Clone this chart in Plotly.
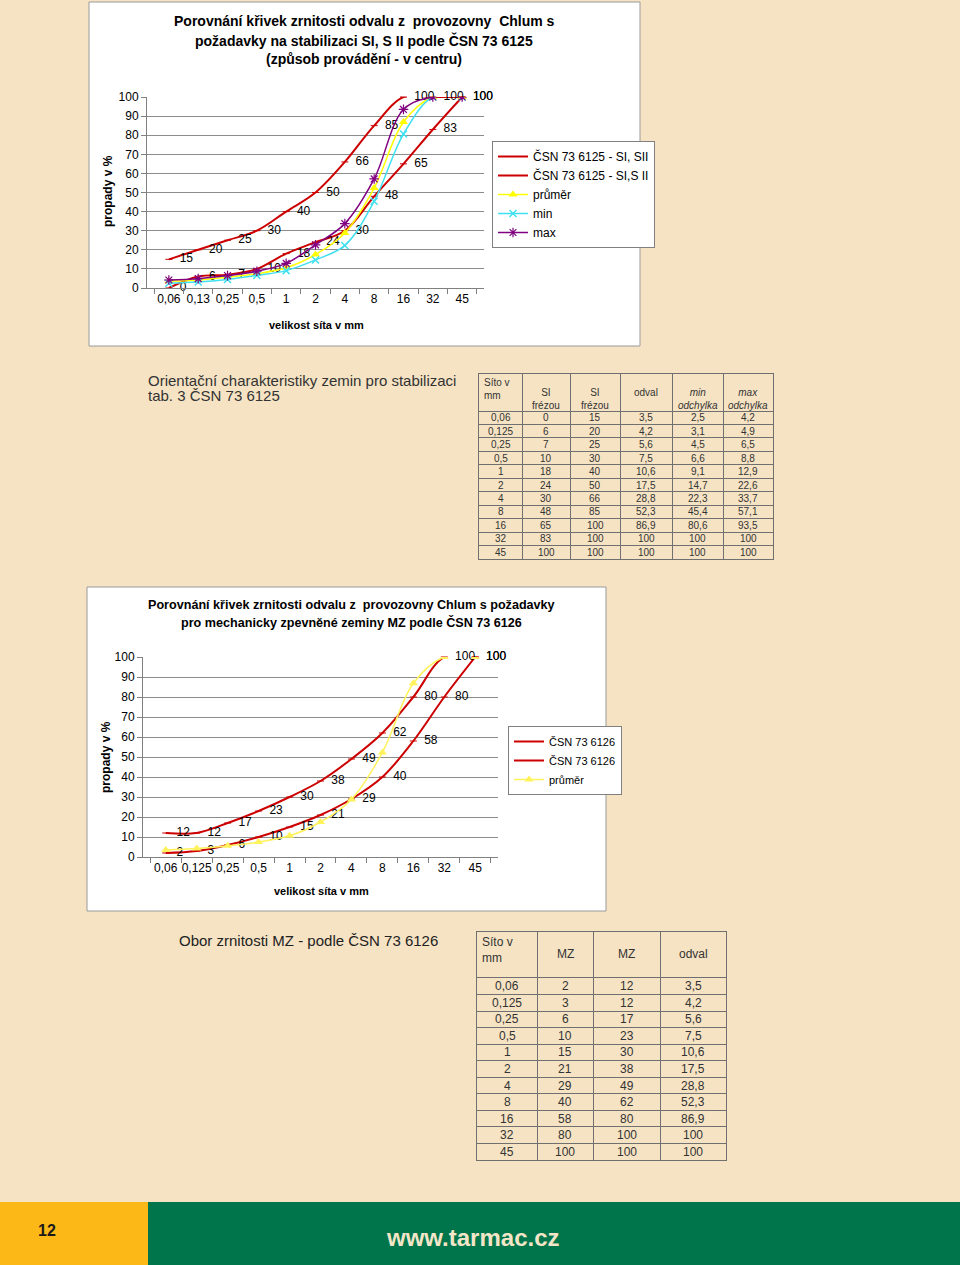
import plotly.graph_objects as go

W, H = 960, 1265
BG = "#F6E3C4"
FONT = "Arial, Liberation Sans, sans-serif"
RED = "#CC0000"
GRID = "#8C8C8C"

# ---- data -------------------------------------------------------------
sieve_chart1 = ["0,06", "0,13", "0,25", "0,5", "1", "2", "4", "8", "16", "32", "45"]
sieve_mm = ["0,06", "0,125", "0,25", "0,5", "1", "2", "4", "8", "16", "32", "45"]

si_low = [0, 6, 7, 10, 18, 24, 30, 48, 65, 83, 100]
si_high = [15, 20, 25, 30, 40, 50, 66, 85, 100, 100, 100]
odval_avg = [3.5, 4.2, 5.6, 7.5, 10.6, 17.5, 28.8, 52.3, 86.9, 100, 100]
odval_min = [2.5, 3.1, 4.5, 6.6, 9.1, 14.7, 22.3, 45.4, 80.6, 100, 100]
odval_max = [4.2, 4.9, 6.5, 8.8, 12.9, 22.6, 33.7, 57.1, 93.5, 100, 100]

mz_low = [2, 3, 6, 10, 15, 21, 29, 40, 58, 80, 100]
mz_high = [12, 12, 17, 23, 30, 38, 49, 62, 80, 100, 100]

title1 = ["Porovnání křivek zrnitosti odvalu z  provozovny  Chlum s",
          "požadavky na stabilizaci SI, S II podle ČSN 73 6125",
          "(způsob provádění - v centru)"]
title2 = ["Porovnání křivek zrnitosti odvalu z  provozovny Chlum s požadavky",
          "pro mechanicky zpevněné zeminy MZ podle ČSN 73 6126"]

tab1_header = ["Síto v<br>mm", "SI<br>frézou", "SI<br>frézou", "odval",
               "<i>min</i><br><i>odchylka</i>", "<i>max</i><br><i>odchylka</i>"]
tab2_header = ["Síto v<br>mm", "MZ", "MZ", "odval"]


def fmt(v):
    return f"{v:g}".replace(".", ",")


def px(x):
    return x / W


def py(y):
    return 1 - y / H


fig = go.Figure()

# ---- chart 1 ----------------------------------------------------------
lbl = lambda vals: ["  " + fmt(v) for v in vals]
fig.add_trace(go.Scatter(x=sieve_chart1, y=si_low, name="ČSN 73 6125 - SI, SII",
                         mode="lines+markers+text", text=lbl(si_low), textposition="middle right",
                         line=dict(color=RED, width=2, shape="spline"),
                         marker=dict(symbol="line-ew-open", size=5, color=RED, line=dict(width=1)),
                         cliponaxis=False, xaxis="x", yaxis="y", legend="legend"))
fig.add_trace(go.Scatter(x=sieve_chart1, y=si_high, name="ČSN 73 6125 - SI,S II",
                         mode="lines+markers+text", text=lbl(si_high), textposition="middle right",
                         line=dict(color=RED, width=2, shape="spline"),
                         marker=dict(symbol="line-ew-open", size=5, color=RED, line=dict(width=1)),
                         cliponaxis=False, xaxis="x", yaxis="y", legend="legend"))
fig.add_trace(go.Scatter(x=sieve_chart1, y=odval_avg, name="průměr", mode="lines+markers",
                         line=dict(color="#FFFF00", width=1.5, shape="spline"),
                         marker=dict(symbol="triangle-up", size=8, color="#FFFF00"),
                         xaxis="x", yaxis="y", legend="legend"))
fig.add_trace(go.Scatter(x=sieve_chart1, y=odval_min, name="min", mode="lines+markers",
                         line=dict(color="#40E0F0", width=1.5, shape="spline"),
                         marker=dict(symbol="x-thin-open", size=7, color="#40E0F0", line=dict(width=1.5)),
                         xaxis="x", yaxis="y", legend="legend"))
fig.add_trace(go.Scatter(x=sieve_chart1, y=odval_max, name="max", mode="lines+markers",
                         line=dict(color="#800080", width=1.5, shape="spline"),
                         marker=dict(symbol="asterisk-open", size=8, color="#800080", line=dict(width=1.2)),
                         xaxis="x", yaxis="y", legend="legend"))

# ---- chart 2 ----------------------------------------------------------
fig.add_trace(go.Scatter(x=sieve_mm, y=mz_low, name="ČSN 73 6126",
                         mode="lines+markers+text", text=lbl(mz_low), textposition="middle right",
                         line=dict(color=RED, width=2, shape="spline"),
                         marker=dict(symbol="line-ew-open", size=5, color=RED, line=dict(width=1)),
                         cliponaxis=False, xaxis="x2", yaxis="y2", legend="legend2"))
fig.add_trace(go.Scatter(x=sieve_mm, y=mz_high, name="ČSN 73 6126",
                         mode="lines+markers+text", text=lbl(mz_high), textposition="middle right",
                         line=dict(color=RED, width=2, shape="spline"),
                         marker=dict(symbol="line-ew-open", size=5, color=RED, line=dict(width=1)),
                         cliponaxis=False, xaxis="x2", yaxis="y2", legend="legend2"))
fig.add_trace(go.Scatter(x=sieve_mm, y=odval_avg, name="průměr", mode="lines+markers",
                         line=dict(color="#FFF25A", width=1.5, shape="spline"),
                         marker=dict(symbol="triangle-up", size=8, color="#FFF25A"),
                         xaxis="x2", yaxis="y2", legend="legend2"))

# empty traces so the table axes exist
fig.add_trace(go.Scatter(x=[], y=[], xaxis="x3", yaxis="y3", showlegend=False))
fig.add_trace(go.Scatter(x=[], y=[], xaxis="x4", yaxis="y4", showlegend=False))

ann = []
for i, t in enumerate(title1):
    ann.append(dict(x=px(364), y=py(21 + 19 * i), text=f"<b>{t}</b>", font=dict(size=14)))
for i, t in enumerate(title2):
    ann.append(dict(x=px(351), y=py(605 + 17 * i), text=f"<b>{t}</b>", font=dict(size=12.6)))
ann += [
    dict(x=px(108), y=py(191), text="<b>propady v %</b>", textangle=-90, font=dict(size=12)),
    dict(x=px(316), y=py(325), text="<b>velikost síta v mm</b>", font=dict(size=11)),
    dict(x=px(106), y=py(757), text="<b>propady v %</b>", textangle=-90, font=dict(size=12)),
    dict(x=px(321), y=py(891), text="<b>velikost síta v mm</b>", font=dict(size=11)),
    dict(x=px(146), y=py(380), xanchor="left", text="Orientační charakteristiky zemin pro stabilizaci",
         font=dict(size=15, color="#333")),
    dict(x=px(146), y=py(396), xanchor="left", text="tab. 3 ČSN 73 6125", font=dict(size=15, color="#333")),
    dict(x=px(177), y=py(940), xanchor="left", text="Obor zrnitosti MZ - podle ČSN 73 6126",
         font=dict(size=15, color="#222")),
    dict(x=px(47), y=py(1230), text="<b>12</b>", font=dict(size=16, color="#1A1A1A")),
    dict(x=px(473), y=py(1237), text="<b>www.tarmac.cz</b>", font=dict(size=24, color="#F3E6C8")),
]
for a in ann:
    a.setdefault("xref", "paper")
    a.setdefault("yref", "paper")
    a.setdefault("xanchor", "center")
    a.setdefault("yanchor", "middle")
    a.setdefault("showarrow", False)


# ---- tables, drawn on their own axes ----------------------------------
def table(xa, ya, edges, header, columns, head_h, row_h, size, head_top):
    for j, h in enumerate(header):
        if j == 0:
            ann.append(dict(x=edges[0] + 3, y=1, xanchor="left", yanchor="top", text=h,
                            xref=xa, yref=ya, showarrow=False, align="left",
                            font=dict(size=size, color="#333")))
        else:
            ann.append(dict(x=(edges[j] + edges[j + 1]) / 2, y=head_top, yanchor="top", text=h,
                            xref=xa, yref=ya, showarrow=False, font=dict(size=size, color="#333")))
    for j, col in enumerate(columns):
        for i, v in enumerate(col):
            ann.append(dict(x=(edges[j] + edges[j + 1]) / 2, y=head_h + row_h * (i + 0.5),
                            text=v, xref=xa, yref=ya, showarrow=False,
                            font=dict(size=size, color="#333")))


edges1 = [0, 43, 91, 141, 193, 244, 294]
cols1 = [sieve_mm] + [[fmt(v) for v in c] for c in (si_low, si_high, odval_avg, odval_min, odval_max)]
table("x3", "y3", edges1, tab1_header, cols1, 37, 13.45, 10, 11)

edges2 = [0, 60, 116, 183, 249]
cols2 = [sieve_mm] + [[fmt(v) for v in c] for c in (mz_low, mz_high, odval_avg)]
table("x4", "y4", edges2, tab2_header, cols2, 46, 16.55, 12, 13)

tab_axis = dict(showticklabels=False, ticks="", showgrid=True, gridcolor="#707070", gridwidth=1,
                zeroline=False, showline=True, mirror=True, linecolor="#707070", linewidth=1)

shapes = [
    dict(type="rect", x0=px(89), x1=px(640), y0=py(346), y1=py(2), fillcolor="white",
         line=dict(color="#9A9A9A", width=1), layer="below"),
    dict(type="rect", x0=px(87), x1=px(606), y0=py(911), y1=py(587), fillcolor="white",
         line=dict(color="#9A9A9A", width=1), layer="below"),
    dict(type="rect", x0=0, x1=px(148), y0=0, y1=py(1202), fillcolor="#FCB817", line=dict(width=0),
         layer="below"),
    dict(type="rect", x0=px(148), x1=1, y0=0, y1=py(1202), fillcolor="#00744A", line=dict(width=0),
         layer="below"),
]
for s in shapes:
    s["xref"] = "paper"
    s["yref"] = "paper"

cat_axis = dict(type="category", tickson="boundaries", ticks="outside", ticklen=5, tickcolor="#808080",
                tickangle=0, showline=True, linecolor="#808080", showgrid=False, tickfont=dict(size=12))
val_axis = dict(range=[0, 100], dtick=10, showgrid=True, gridcolor=GRID, gridwidth=1, ticks="outside",
                ticklen=5, tickcolor="#808080", showline=True, linecolor="#808080", zeroline=False,
                tickfont=dict(size=12))

fig.update_layout(
    width=W, height=H, margin=dict(l=0, r=0, t=0, b=0, autoexpand=False),
    paper_bgcolor=BG, plot_bgcolor="rgba(0,0,0,0)",
    font=dict(family=FONT, color="#000"),
    xaxis=dict(cat_axis, domain=[px(147), px(484)], anchor="y"),
    yaxis=dict(val_axis, domain=[py(288), py(97)], anchor="x"),
    xaxis2=dict(cat_axis, domain=[px(143), px(498)], anchor="y2"),
    yaxis2=dict(val_axis, domain=[py(857), py(657)], anchor="x2"),
    xaxis3=dict(tab_axis, domain=[px(479), px(773)], range=[0, 294], tickvals=edges1, anchor="y3"),
    yaxis3=dict(tab_axis, domain=[py(559), py(374)], range=[37 + 11 * 13.45, 0],
                tickvals=[37 + 13.45 * k for k in range(11)], anchor="x3"),
    xaxis4=dict(tab_axis, domain=[px(477), px(726)], range=[0, 249], tickvals=edges2, anchor="y4"),
    yaxis4=dict(tab_axis, domain=[py(1160), py(932)], range=[46 + 11 * 16.55, 0],
                tickvals=[46 + 16.55 * k for k in range(11)], anchor="x4"),
    legend=dict(x=px(492), y=py(141), xanchor="left", yanchor="top", bgcolor="white",
                bordercolor="#808080", borderwidth=1, font=dict(size=12), tracegroupgap=0, itemwidth=30),
    legend2=dict(x=px(508), y=py(726), xanchor="left", yanchor="top", bgcolor="white",
                 bordercolor="#808080", borderwidth=1, font=dict(size=11), tracegroupgap=0, itemwidth=30),
    annotations=ann, shapes=shapes,
)

# page margin off so the figure sits at the window's top-left corner
fig.write_html("out.html", config={"displayModeBar": False},
               post_script="document.body.style.margin='0';")
